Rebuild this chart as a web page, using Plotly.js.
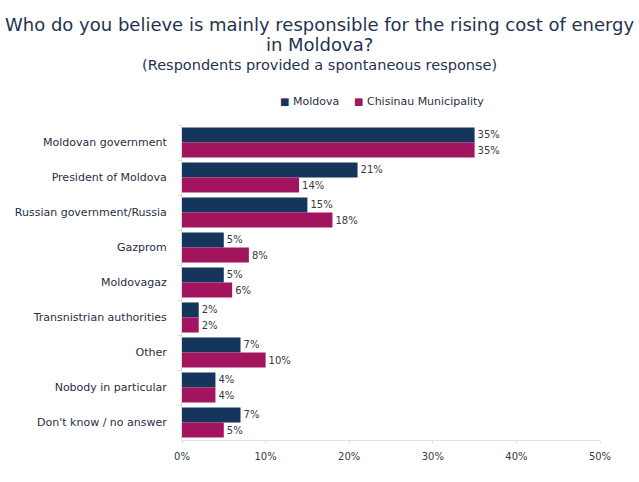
<!DOCTYPE html>
<html>
<head>
<meta charset="utf-8">
<script src="https://cdn.plot.ly/plotly-3.0.1.min.js"></script>
<style>
  html, body { margin: 0; padding: 0; background: #ffffff; }
  #chart { width: 639px; height: 482px; }
</style>
</head>
<body>
<div id="chart"></div>
<script>
// Survey answers: who is responsible for the rising cost of energy
const categories = [
  "Moldovan government",
  "President of Moldova",
  "Russian government/Russia",
  "Gazprom",
  "Moldovagaz",
  "Transnistrian authorities",
  "Other",
  "Nobody in particular",
  "Don't know / no answer"
];
const seriesNames = ["Moldova", "Chisinau Municipality"];
const moldova = [35, 21, 15, 5, 5, 2, 7, 4, 7];
const chisinau = [35, 14, 18, 8, 6, 2, 10, 4, 5];
const xTicks = [0, 10, 20, 30, 40, 50];

const FONT = "DejaVu Sans, Verdana, sans-serif";
const TEXT_COLOR = "#1f2f45";
const TITLE_COLOR = "#1f3350";
const COLORS = ["#15355c", "#a3145f"];

// figure geometry (pixels)
const W = 639, H = 482;
const M = { l: 182, r: 39, t: 125, b: 42 };
const plotW = W - M.l - M.r;
const plotH = H - M.t - M.b;
const px = x => (x - M.l) / plotW;
const py = y => (H - M.b - y) / plotH;

function barTrace(name, values, color) {
  return {
    type: "bar",
    orientation: "h",
    name: name,
    y: categories,
    x: values,
    marker: { color: color },
    text: values.map(v => v + "%"),
    textposition: "outside",
    cliponaxis: false,
    textfont: { family: FONT, size: 10, color: "#333a44" },
    hoverinfo: "x+y",
    showlegend: false
  };
}

const data = [
  barTrace(seriesNames[0], moldova, COLORS[0]),
  barTrace(seriesNames[1], chisinau, COLORS[1])
];

// question (two lines) and the note below it, as one centred text block
const titleBlock = [
  "<span style='font-size:18px'>Who do you believe is mainly responsible for the rising cost of energy</span>",
  "<span style='font-size:18px'>in Moldova?</span>",
  "<span style='font-size:14.5px'>(Respondents provided a spontaneous response)</span>"
].join("<br>");

const annotations = [{
  text: titleBlock,
  xref: "paper", yref: "paper",
  x: px(W / 2), y: py(13),
  xanchor: "center", yanchor: "top",
  align: "center",
  borderpad: 0,
  showarrow: false,
  font: { family: FONT, size: 15, color: TITLE_COLOR }
}];

// compact legend: coloured square followed by the series name
const legendItems = [
  { name: seriesNames[0], color: COLORS[0], x: 279 },
  { name: seriesNames[1], color: COLORS[1], x: 353 }
];
legendItems.forEach(it => {
  annotations.push({
    text: "<span style='color:" + it.color + ";font-size:10px'>■</span> " + it.name,
    xref: "paper", yref: "paper",
    x: px(it.x), y: py(101),
    xanchor: "left", yanchor: "middle",
    borderpad: 0,
    showarrow: false,
    font: { family: FONT, size: 11, color: TEXT_COLOR }
  });
});

const layout = {
  width: W,
  height: H,
  margin: M,
  paper_bgcolor: "#ffffff",
  plot_bgcolor: "#ffffff",
  font: { family: FONT, color: TEXT_COLOR },
  annotations: annotations,
  barmode: "group",
  bargap: 0.14,
  bargroupgap: 0,
  showlegend: false,
  xaxis: {
    range: [0, 50],
    tickvals: xTicks,
    ticktext: xTicks.map(v => v + "%"),
    showgrid: false,
    zeroline: false,
    showline: true,
    linecolor: "#e2e2e2",
    linewidth: 1,
    ticks: "outside",
    ticklen: 3,
    tickcolor: "#e2e2e2",
    ticklabelstandoff: 4,
    tickfont: { family: FONT, size: 10, color: "#333a44" },
    fixedrange: true
  },
  yaxis: {
    autorange: "reversed",
    showgrid: false,
    zeroline: false,
    showline: true,
    linecolor: "#dcdcdc",
    linewidth: 1,
    ticks: "outside",
    tickson: "boundaries",
    ticklen: 3,
    tickcolor: "#dcdcdc",
    ticklabelstandoff: 12,
    tickfont: { family: FONT, size: 11, color: TEXT_COLOR },
    fixedrange: true
  }
};

Plotly.newPlot("chart", data, layout, { displayModeBar: false, staticPlot: true });
</script>
</body>
</html>
